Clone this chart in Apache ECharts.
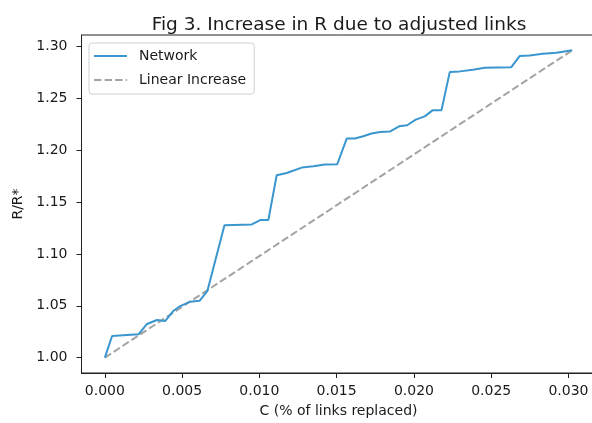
<!DOCTYPE html>
<html>
<head>
<meta charset="utf-8">
<script src="https://cdn.jsdelivr.net/npm/echarts@6/dist/echarts.min.js"></script>
<style>html,body{margin:0;padding:0;background:#fff}#c{width:592px;height:423px}</style>
</head>
<body>
<div id="c"></div>
<script>
// ---- data ----
const title = "Fig 3. Increase in R due to adjusted links";
const xName = "C (% of links replaced)";
const yName = "R/R*";
const seriesNames = ["Network", "Linear Increase"];
const networkX = [0, 0.00047, 0.00218, 0.00273, 0.00337, 0.0039, 0.00445, 0.00488, 0.00552, 0.00613, 0.00664, 0.00774, 0.00951, 0.01005, 0.01058, 0.01112, 0.01177, 0.01274, 0.01349, 0.01424, 0.01504, 0.01565, 0.01618, 0.01672, 0.01726, 0.0178, 0.01844, 0.01904, 0.01956, 0.02012, 0.0207, 0.0212, 0.02178, 0.02232, 0.02297, 0.02382, 0.02458, 0.0263, 0.02684, 0.02749, 0.02834, 0.02921, 0.02964, 0.03024];
const networkY = [1.000, 1.0209, 1.0225, 1.0325, 1.0363, 1.0353, 1.0453, 1.0498, 1.054, 1.0549, 1.0645, 1.1278, 1.1285, 1.1327, 1.1327, 1.176, 1.1782, 1.1834, 1.1847, 1.1863, 1.1866, 1.2114, 1.2114, 1.2136, 1.2162, 1.2177, 1.2181, 1.2232, 1.2242, 1.2297, 1.2328, 1.2386, 1.2386, 1.2755, 1.2762, 1.2778, 1.2798, 1.2803, 1.291, 1.2916, 1.2932, 1.2942, 1.2952, 1.2965];
const linearX = [0, 0.03024];
const linearY = [1.0, 1.2965];
const xTicks = [0, 0.005, 0.010, 0.015, 0.020, 0.025, 0.030];
const yTicks = [1.00, 1.05, 1.10, 1.15, 1.20, 1.25, 1.30];
const xRange = [-0.00151, 0.03175];
const yRange = [0.9852, 1.3113];

// ---- chart ----
const FONT = "DejaVu Sans";
const chart = echarts.init(document.getElementById('c'), null, {renderer: 'canvas'});
const zip = (a, b) => a.map((v, i) => [v, b[i]]);
chart.setOption({
  animation: false,
  backgroundColor: '#ffffff',
  textStyle: {fontFamily: FONT},
  title: {
    text: title, left: 334, top: 11, textAlign: 'center',
    textStyle: {fontFamily: FONT, fontSize: 18.5, fontWeight: 'normal', color: '#1a1a1a'}
  },
  legend: {
    data: seriesNames, orient: 'vertical', left: 89, top: 43,
    itemWidth: 33, itemHeight: 14, itemGap: 10,
    padding: [6, 8, 7, 4],
    borderColor: '#d0d0d0', borderWidth: 1, borderRadius: 3,
    backgroundColor: 'rgba(255,255,255,0.8)',
    itemStyle: {opacity: 0},
    textStyle: {fontFamily: FONT, fontSize: 14, color: '#1a1a1a', padding: [0, 0, 0, 7]}
  },
  grid: {
    left: 81.5, top: 35, width: 514, height: 338,
    show: true, borderColor: '#222', borderWidth: 1, backgroundColor: 'transparent',
    containLabel: false, outerBoundsMode: 'none'
  },
  xAxis: {
    type: 'value', min: xRange[0], max: xRange[1],
    name: xName, nameLocation: 'middle', nameGap: 31,
    nameTextStyle: {fontFamily: FONT, fontSize: 14, color: '#1a1a1a'},
    axisLine: {show: true, onZero: false, lineStyle: {color: '#222', width: 1}},
    axisTick: {show: true, length: 5, customValues: xTicks, lineStyle: {color: '#222'}},
    axisLabel: {customValues: xTicks, margin: 11, fontFamily: FONT, fontSize: 14, color: '#1a1a1a',
      formatter: v => v.toFixed(3)},
    splitLine: {show: false}
  },
  yAxis: {
    type: 'value', min: yRange[0], max: yRange[1],
    name: yName, nameLocation: 'middle', nameGap: 53,
    nameTextStyle: {fontFamily: FONT, fontSize: 14, color: '#1a1a1a'},
    axisLine: {show: true, onZero: false, lineStyle: {color: '#222', width: 1}},
    axisTick: {show: true, length: 5, customValues: yTicks, lineStyle: {color: '#222'}},
    axisLabel: {customValues: yTicks, margin: 14, fontFamily: FONT, fontSize: 14, color: '#1a1a1a',
      formatter: v => v.toFixed(2)},
    splitLine: {show: false}
  },
  series: [
    {
      name: seriesNames[0], type: 'line', data: zip(networkX, networkY),
      symbol: 'none', lineStyle: {color: '#3a96cf', width: 2}, itemStyle: {color: '#3a96cf'}, z: 3
    },
    {
      name: seriesNames[1], type: 'line', data: zip(linearX, linearY),
      symbol: 'none', lineStyle: {color: '#a3a3a3', width: 2, type: [7.4, 3.2]}, itemStyle: {color: '#a3a3a3'}, z: 2
    }
  ]
});
</script>
</body>
</html>
